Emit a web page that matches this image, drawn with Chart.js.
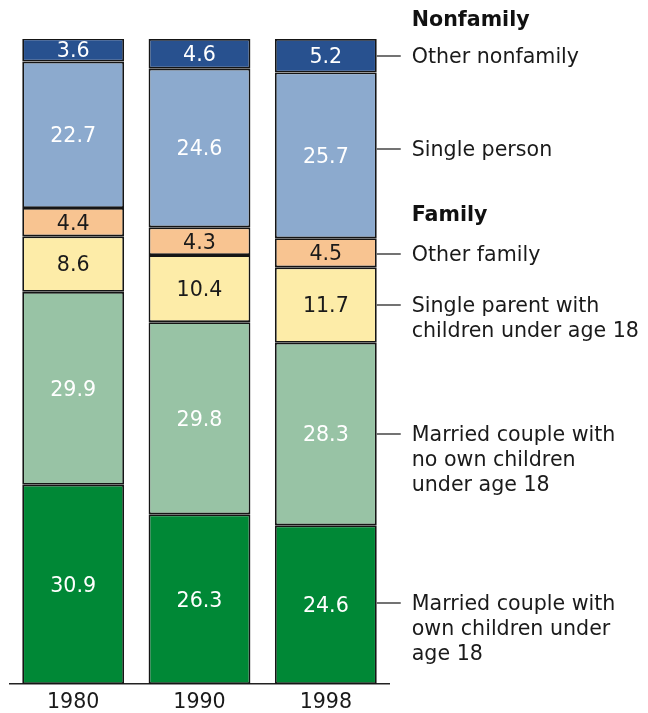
<!DOCTYPE html>
<html>
<head>
<meta charset="utf-8">
<script src="https://cdn.jsdelivr.net/npm/chart.js@4/dist/chart.umd.min.js"></script>
<style>
html,body{margin:0;padding:0;background:#fff;}
#wrap{position:relative;width:648px;height:713px;}
</style>
</head>
<body>
<div id="wrap"><canvas id="c" width="648" height="713"></canvas></div>
<script>
const years = ["1980", "1990", "1998"];
const seriesNames = [
  "Married couple with own children under age 18",
  "Married couple with no own children under age 18",
  "Single parent with children under age 18",
  "Other family",
  "Single person",
  "Other nonfamily"
];
const marriedOwnKids = [30.9, 26.3, 24.6];
const marriedNoKids = [29.9, 29.8, 28.3];
const singleParent = [8.6, 10.4, 11.7];
const otherFamily = [4.4, 4.3, 4.5];
const singlePerson = [22.7, 24.6, 25.7];
const otherNonfamily = [3.6, 4.6, 5.2];
const labelLines = [
  ["Married couple with", "own children under", "age 18"],
  ["Married couple with", "no own children", "under age 18"],
  ["Single parent with", "children under age 18"],
  ["Other family"],
  ["Single person"],
  ["Other nonfamily"]
];
const groupHeaders = [["Family", 3], ["Nonfamily", 5]];

const colors = ["#008836", "#98c3a5", "#fdeca8", "#f8c491", "#8caace", "#28518f"];
const valueColors = ["#ffffff", "#ffffff", "#1a1a1a", "#1a1a1a", "#ffffff", "#ffffff"];
const labelNudge = [-2, 0, 0, 1, -6, 0];
const FONT = "'DejaVu Sans', sans-serif";
const FS = 20.6;

const allSeries = [marriedOwnKids, marriedNoKids, singleParent, otherFamily, singlePerson, otherNonfamily];

const labelPlugin = {
  id: 'labels',
  afterDatasetsDraw(chart) {
    const ctx = chart.ctx;
    ctx.save();
    ctx.font = FS + "px " + FONT;
    ctx.textAlign = "center";
    ctx.textBaseline = "middle";
    chart.data.datasets.forEach((ds, i) => {
      const meta = chart.getDatasetMeta(i);
      meta.data.forEach((bar, j) => {
        const cy = (bar.y + bar.base) / 2;
        ctx.fillStyle = valueColors[i];
        ctx.fillText(ds.data[j].toFixed(1), bar.x, cy + 2);
      });
    });
    const last = years.length - 1;
    ctx.textAlign = "left";
    ctx.strokeStyle = "#444";
    ctx.lineWidth = 1.5;
    chart.data.datasets.forEach((ds, i) => {
      const bar = chart.getDatasetMeta(i).data[last];
      const cy = Math.round((bar.y + bar.base) / 2 + labelNudge[i]);
      const x0 = bar.x + bar.width / 2;
      ctx.beginPath();
      ctx.moveTo(x0, cy);
      ctx.lineTo(x0 + 24, cy);
      ctx.stroke();
      ctx.fillStyle = "#1a1a1a";
      ctx.font = FS + "px " + FONT;
      labelLines[i].forEach((t, k) => {
        ctx.fillText(t, x0 + 35, cy + 2 + k * 25);
      });
    });
    groupHeaders.forEach(([name, idx]) => {
      const bar = chart.getDatasetMeta(idx).data[last];
      const x0 = bar.x + bar.width / 2;
      const top = Math.min(bar.y, bar.base);
      const isTop = idx === allSeries.length - 1;
      const yy = isTop ? 21 : top - 23;
      ctx.font = "bold " + FS + "px " + FONT;
      ctx.fillStyle = "#111";
      ctx.fillText(name, x0 + 35, yy);
    });
    ctx.restore();
  }
};

new Chart(document.getElementById("c"), {
  type: "bar",
  data: {
    labels: years,
    datasets: allSeries.map((d, i) => ({
      label: seriesNames[i],
      data: d,
      backgroundColor: colors[i],
      borderColor: "#151515",
      borderWidth: 1.8,
      borderSkipped: false,
      categoryPercentage: 1,
      barPercentage: 0.806
    }))
  },
  options: {
    responsive: false,
    animation: false,
    events: [],
    layout: { padding: { left: 10, right: 259, top: 39, bottom: 0 } },
    plugins: { legend: { display: false }, tooltip: { enabled: false } },
    scales: {
      x: {
        stacked: true,
        grid: { display: false, drawTicks: false },
        border: { display: true, color: "#222", width: 1.5 },
        ticks: { color: "#1a1a1a", font: { family: FONT, size: FS }, padding: 6 },
        afterFit(s) { s.height = 29; }
      },
      y: {
        stacked: true,
        display: false,
        min: 0,
        max: 100
      }
    }
  },
  plugins: [labelPlugin]
});
</script>
</body>
</html>
